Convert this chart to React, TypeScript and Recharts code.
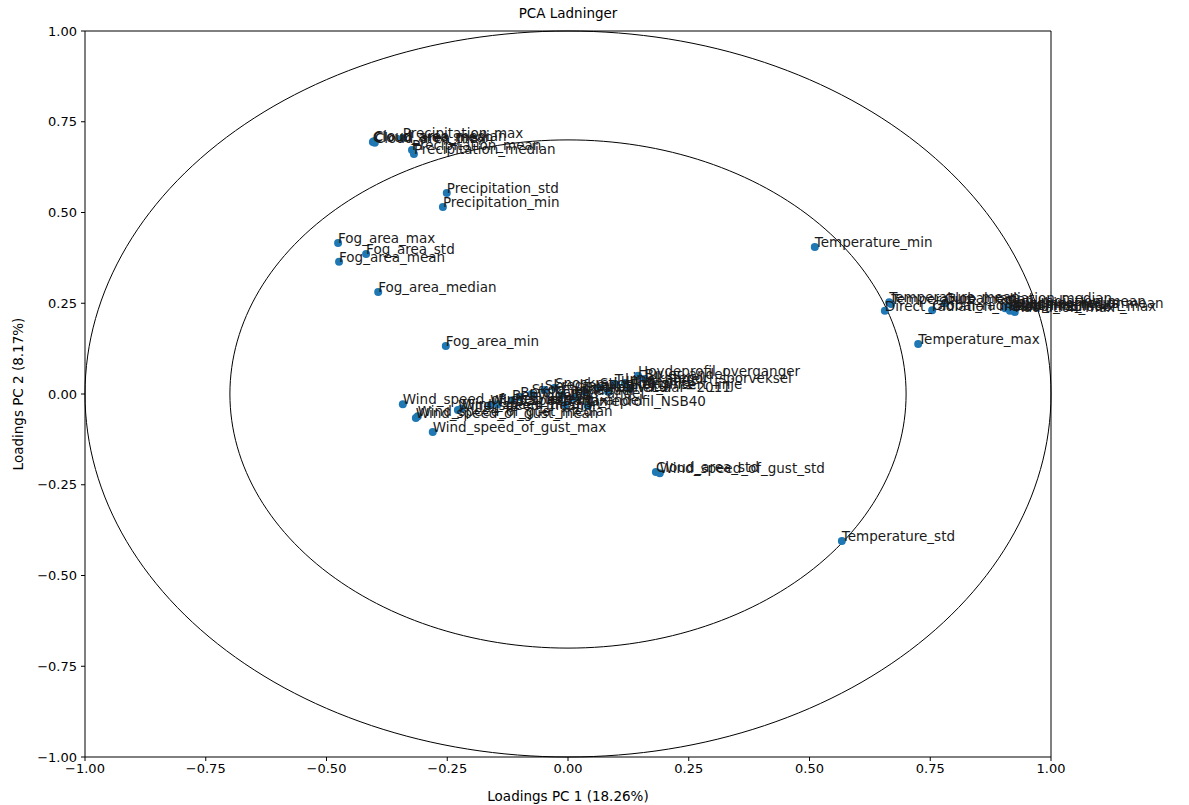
import { ScatterChart, Scatter, XAxis, YAxis, ReferenceArea } from 'recharts';

// PCA loadings (PC 1 on x, PC 2 on y)
const loadingNames = [
  'Cloud_area_mean', 'Cloud_area_median', 'Cloud_area_max',
  'Precipitation_max', 'Precipitation_mean', 'Precipitation_median',
  'Precipitation_std', 'Precipitation_min',
  'Fog_area_max', 'Fog_area_std', 'Fog_area_mean', 'Fog_area_median', 'Fog_area_min',
  'Temperature_min', 'Temperature_max', 'Temperature_std',
  'Cloud_area_std', 'Wind_speed_of_gust_std',
  'Temperature_mean', 'Temperature_median', 'Direct_radiation_mean',
  'Global_radiation_mean', 'Global_radiation_median',
  'Sun_radiation_mean', 'Sunshine_hours_mean', 'Global_radiation_max',
  'Sunshine_median', 'Radiation_max', 'Sunshine_max',
  'Wind_speed_of_gust_min', 'Wind_speed_of_gust_mean', 'Wind_speed_of_gust_median',
  'Wind_speed_of_gust_max', 'Wind_speed_mean', 'Wind_speed_median', 'Wind_speed_max',
  'Ruhet_terreng', 'Bebyggelse', 'Befolkning', 'Skog_andel', 'Skredfare',
  'Snoskred_sikring', 'Fjell_andel', 'Vann_andel', 'Myr_andel', 'Sporkurvatur',
  'Linjeprofil_NSB40', 'Stigning_snitt', 'Aapnet_aar=2011', 'Tunnel_andel',
  'Linjekategori_sporveksel', 'Hoydeprofil_overganger', 'Bruer_andel', 'Elektrifisert_linje',
];

const pc1 = [
  -0.404, -0.402, -0.400,
  -0.342, -0.323, -0.319,
  -0.251, -0.259,
  -0.476, -0.418, -0.474, -0.393, -0.253,
  0.511, 0.725, 0.567,
  0.182, 0.190,
  0.665, 0.669, 0.656,
  0.754, 0.780,
  0.911, 0.919, 0.915,
  0.905, 0.925, 0.921,
  -0.342, -0.315, -0.311,
  -0.280, -0.228, -0.220, -0.161,
  -0.145, -0.116, -0.099, -0.075, -0.048,
  -0.027, -0.012, -0.006, 0.014, 0.035,
  0.041, 0.066, 0.083, 0.097,
  0.118, 0.145, 0.159, 0.128,
];

const pc2 = [
  0.694, 0.696, 0.692,
  0.705, 0.672, 0.661,
  0.554, 0.515,
  0.416, 0.386, 0.364, 0.281, 0.132,
  0.405, 0.138, -0.405,
  -0.215, -0.218,
  0.253, 0.248, 0.229,
  0.231, 0.250,
  0.242, 0.237, 0.229,
  0.236, 0.226, 0.232,
  -0.028, -0.066, -0.061,
  -0.105, -0.044, -0.040, -0.030,
  -0.028, -0.017, -0.008, 0.000, 0.011,
  0.017, -0.003, -0.030, -0.011, 0.006,
  -0.033, 0.017, 0.006, 0.028,
  0.030, 0.050, 0.041, 0.014,
];

const axisTicks = [-1, -0.75, -0.5, -0.25, 0, 0.25, 0.5, 0.75, 1];
const circleRadii = [1, 0.7];

const loadings = loadingNames.map((name, i) => ({ name, x: pc1[i], y: pc2[i] }));

// reference circle outline, sampled around the unit angle
const circle = (r: number) =>
  Array.from({ length: 241 }, (_, i) => {
    const t = (i / 240) * 2 * Math.PI;
    return { x: r * Math.cos(t), y: r * Math.sin(t) };
  });

const FONT = "'DejaVu Sans', sans-serif";
const fmt = (v: number) => v.toFixed(2).replace('-', '\u2212');

const Dot = (p: any) => <circle cx={p.cx} cy={p.cy} r={4} fill="#1f77b4" />;
const Name = (p: any) => (
  <text x={p.cx} y={p.cy} fontSize={13.5} fontFamily={FONT} fill="#1a1a1a">
    {p.payload.name}
  </text>
);
const Nothing = () => <g />;

export default function App() {
  return (
    <div style={{ position: 'absolute', left: 0, top: 0, width: 1189, height: 805, background: '#fff', fontFamily: FONT }}>
      <div style={{ position: 'absolute', left: 85, top: 5, width: 966, textAlign: 'center', fontSize: 13.5, lineHeight: '16px', color: '#000' }}>
        PCA Ladninger
      </div>
      <ScatterChart width={1189} height={805} margin={{ top: 31, right: 138, bottom: 0, left: 0 }}>
        <XAxis
          type="number"
          dataKey="x"
          domain={[-1, 1]}
          ticks={axisTicks}
          tickFormatter={fmt}
          height={48}
          tickSize={4}
          tickMargin={3}
          axisLine={false}
          tickLine={{ stroke: '#000' }}
          tick={{ fontSize: 13, fill: '#000', fontFamily: FONT }}
          label={{ value: 'Loadings PC 1 (18.26%)', position: 'insideBottom', offset: 4, fontSize: 13.5, fill: '#000', fontFamily: FONT }}
        />
        <YAxis
          type="number"
          dataKey="y"
          domain={[-1, 1]}
          ticks={axisTicks}
          tickFormatter={fmt}
          width={85}
          tickSize={4}
          tickMargin={4}
          axisLine={false}
          tickLine={{ stroke: '#000' }}
          tick={{ fontSize: 13, fill: '#000', fontFamily: FONT }}
          label={{ value: 'Loadings PC 2 (8.17%)', angle: -90, position: 'center', dx: -24, fontSize: 13.5, fill: '#000', fontFamily: FONT }}
        />
        {circleRadii.map(r => (
          <Scatter
            key={r}
            data={circle(r)}
            line={{ stroke: '#000', strokeWidth: 1 }}
            lineType="joint"
            shape={Nothing}
            isAnimationActive={false}
          />
        ))}
        <Scatter data={loadings} shape={Dot} isAnimationActive={false} />
        <Scatter data={loadings} shape={Name} isAnimationActive={false} />
        <ReferenceArea x1={-1} x2={1} y1={-1} y2={1} fill="none" stroke="#000" strokeWidth={1} ifOverflow="visible" />
      </ScatterChart>
    </div>
  );
}
